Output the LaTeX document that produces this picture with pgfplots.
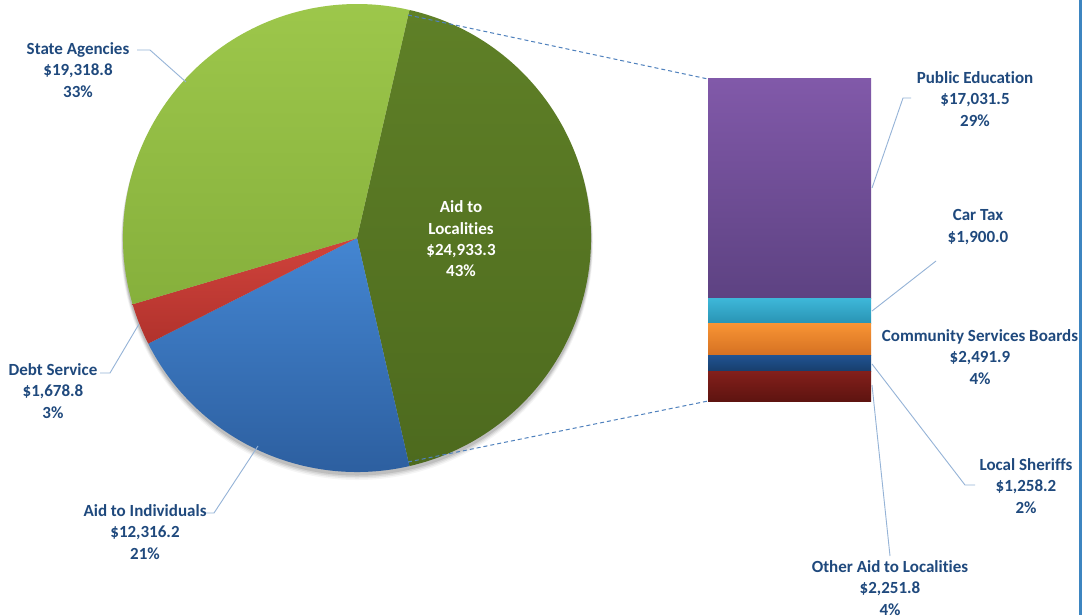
\documentclass[border=0pt]{standalone}
\usepackage{pgfplots}
\pgfplotsset{compat=1.18}
\usepackage{xfp}
\usepackage{fontspec}
\setmainfont{Carlito}[Ligatures={NoCommon}]
\definecolor{lab}{HTML}{1F497D}
\definecolor{lead}{HTML}{95B3D7}
\definecolor{dashc}{HTML}{4F81BD}
\definecolor{edgec}{HTML}{3D85C0}
\definecolor{locT}{HTML}{5F8027}\definecolor{locB}{HTML}{4D6A1E}
\definecolor{indT}{HTML}{4486D2}\definecolor{indB}{HTML}{2B5C9C}
\definecolor{debT}{HTML}{D0433C}\definecolor{debB}{HTML}{B1322C}
\definecolor{saT}{HTML}{9DC74B}\definecolor{saB}{HTML}{86B03C}
\definecolor{othT}{HTML}{821F1B}\definecolor{othB}{HTML}{5E1410}
\definecolor{shT}{HTML}{205290}\definecolor{shB}{HTML}{173D6A}
\definecolor{csT}{HTML}{F89434}\definecolor{csB}{HTML}{D47022}
\definecolor{ctT}{HTML}{3DB6D8}\definecolor{ctB}{HTML}{2993B3}
\definecolor{peT}{HTML}{8159A9}\definecolor{peB}{HTML}{5D4282}
\begin{document}
\begin{tikzpicture}[lbl/.style={inner sep=0pt, align=center, text=lab, font=\fontsize{17}{21.3}\selectfont\bfseries}]
% pie data
\edef\vLoc{24933.3}\edef\vSA{19318.8}\edef\vInd{12316.2}\edef\vDebt{1678.8}
\edef\T{\fpeval{\vLoc+\vSA+\vInd+\vDebt}}
\edef\aS{\fpeval{180*\vLoc/\T}}
\edef\aE{\fpeval{-180*\vLoc/\T}}
\edef\bE{\fpeval{\aE-360*\vInd/\T}}
\edef\cE{\fpeval{\bE-360*\vDebt/\T}}
\edef\dE{\fpeval{\cE-360*\vSA/\T}}
\begin{axis}[at={(0,0)}, anchor=south west, width=1086pt, height=615pt, scale only axis,
  xmin=0, xmax=1086, ymin=0, ymax=615, y dir=reverse, hide axis, clip=false]
\fill[white] (0,0) rectangle (1086,615);
% soft shadow
\fill[black, opacity=0.10] (357,241) circle[radius=234.5pt];
\fill[black, opacity=0.08] (357,242) circle[radius=235pt];
\fill[black, opacity=0.06] (357,243) circle[radius=235.5pt];
\fill[black, opacity=0.04] (357,244) circle[radius=236pt];
% slices
\shade[top color=locT, bottom color=locB] (357,238) -- ++(\aS:234pt) arc[start angle=\aS, end angle=\aE, radius=234pt] -- cycle;
\shade[top color=indT, bottom color=indB] (357,238) -- ++(\aE:234pt) arc[start angle=\aE, end angle=\bE, radius=234pt] -- cycle;
\shade[top color=debT, bottom color=debB] (357,238) -- ++(\bE:234pt) arc[start angle=\bE, end angle=\cE, radius=234pt] -- cycle;
\shade[top color=saT, bottom color=saB] (357,238) -- ++(\cE:234pt) arc[start angle=\cE, end angle=\dE, radius=234pt] -- cycle;
% dashed connectors
\draw[dashc, dash pattern=on 4pt off 3pt, line width=1pt] (408,15) -- (708,79);
\draw[dashc, dash pattern=on 4pt off 3pt, line width=1pt] (408,462) -- (708,401);
% leader lines
\draw[lead, line width=0.9pt] (137,50) -- (150,50) -- (186,82);
\draw[lead, line width=0.9pt] (100,373) -- (110,373) -- (139,324);
\draw[lead, line width=0.9pt] (203,513) -- (214,513) -- (258,446);
\draw[lead, line width=0.9pt] (911,98) -- (903,98) -- (872,188);
\draw[lead, line width=0.9pt] (936,261) -- (872,311);
\draw[lead, line width=0.9pt] (872,364) -- (965,485) -- (975,485);
\draw[lead, line width=0.9pt] (872,385) -- (890,556);
% labels
\node[lbl] at (78,70) {State Agencies\\\$19,318.8\\33\%};
\node[lbl, text=white] at (461,239) {Aid to\\Localities\\\$24,933.3\\43\%};
\node[lbl] at (53,391) {Debt Service\\\$1,678.8\\3\%};
\node[lbl] at (145,532) {Aid to Individuals\\\$12,316.2\\21\%};
\node[lbl] at (975,99) {Public Education\\\$17,031.5\\29\%};
\node[lbl] at (978,227) {Car Tax\\\$1,900.0};
\node[lbl] at (980,357) {Community Services Boards\\\$2,491.9\\4\%};
\node[lbl] at (1026,486) {Local Sheriffs\\\$1,258.2\\2\%};
\node[lbl] at (890,588) {Other Aid to Localities\\\$2,251.8\\4\%};
% right edge line
\fill[edgec] (1078.5,0) rectangle (1081.5,615);
\end{axis}
\begin{axis}[at={(708pt,214pt)}, anchor=south west, width=163pt, height=322pt, scale only axis,
  xmin=-0.5, xmax=0.5, ymin=0, ymax=24933.4, hide axis, clip=false,
  ybar stacked, bar width=163pt]
\addplot[draw=none, top color=othT, bottom color=othB] coordinates {(0,2251.8)};
\addplot[draw=none, top color=shT, bottom color=shB] coordinates {(0,1258.2)};
\addplot[draw=none, top color=csT, bottom color=csB] coordinates {(0,2491.9)};
\addplot[draw=none, top color=ctT, bottom color=ctB] coordinates {(0,1900.0)};
\addplot[draw=none, top color=peT, bottom color=peB] coordinates {(0,17031.5)};
\end{axis}
\end{tikzpicture}
\end{document}
